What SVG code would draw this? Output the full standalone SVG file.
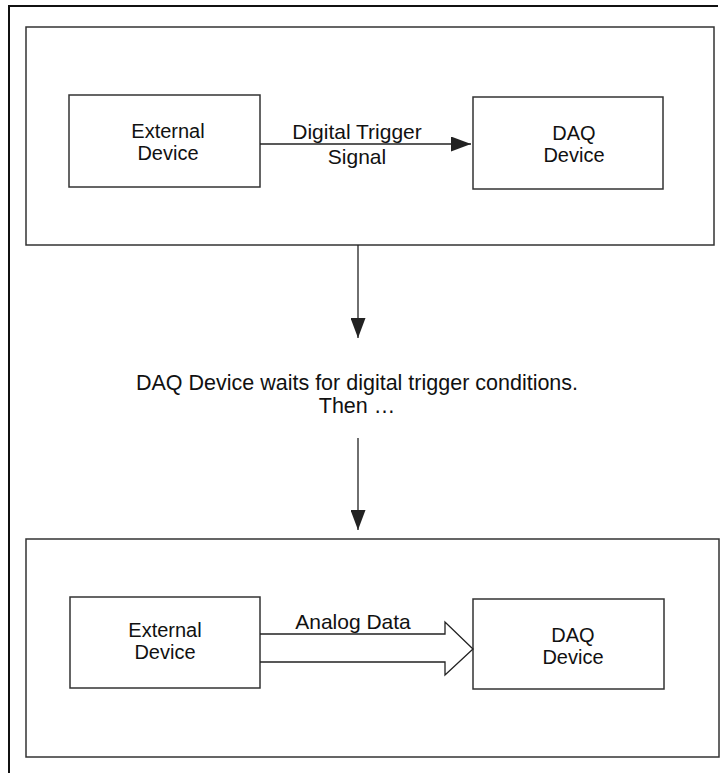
<svg xmlns="http://www.w3.org/2000/svg" width="724" height="773" viewBox="0 0 724 773">
<defs>
<style>
.frame{fill:none;stroke:#111;stroke-width:2}
.panel{fill:none;stroke:#333;stroke-width:1.5}
.box{fill:#fff;stroke:#333;stroke-width:1.5}
.line{fill:none;stroke:#222;stroke-width:1.3}
.t{font-family:"Liberation Sans",Arial,Helvetica,sans-serif;font-size:20px;fill:#111;text-anchor:middle}
.lbl{font-size:21px}
.mid{font-size:21.5px}
</style>
<marker id="ah" viewBox="0 0 20 15" refX="20" refY="7.5" markerWidth="20" markerHeight="15" markerUnits="userSpaceOnUse" orient="auto">
<path d="M0,0 L20,7.5 L0,15 Z" fill="#222"/>
</marker>
</defs>
<rect width="724" height="773" fill="#fff"/>
<path class="frame" d="M9,773 V6 H718"/>
<g id="panel-top">
<rect class="panel" x="26" y="27" width="688" height="218"/>
</g>
<g id="ext-top">
<rect class="box" x="69" y="95" width="191" height="92"/>
<text class="t" x="168" y="138">External</text>
<text class="t" x="168" y="160">Device</text>
</g>
<g id="daq-top">
<rect class="box" x="473" y="97" width="190" height="92"/>
<text class="t" x="574" y="140">DAQ</text>
<text class="t" x="574" y="162">Device</text>
</g>
<g id="mid-text">
<text class="t mid" x="357" y="390">DAQ Device waits for digital trigger conditions.</text>
<text class="t mid" x="357" y="413">Then …</text>
</g>
<g id="panel-bottom">
<rect class="panel" x="26" y="539" width="693" height="218"/>
</g>
<g id="ext-bottom">
<rect class="box" x="70" y="597" width="190" height="91"/>
<text class="t" x="165" y="637">External</text>
<text class="t" x="165" y="659">Device</text>
</g>
<g id="daq-bottom">
<rect class="box" x="473" y="599" width="191" height="90"/>
<text class="t" x="573" y="642">DAQ</text>
<text class="t" x="573" y="664">Device</text>
</g>
<g id="connectors">
<line class="line" x1="260" y1="144" x2="471" y2="144" marker-end="url(#ah)"/>
<text class="t lbl" x="357" y="139">Digital Trigger</text>
<text class="t lbl" x="357" y="164">Signal</text>
<line class="line" x1="358" y1="245" x2="358" y2="338" marker-end="url(#ah)"/>
<line class="line" x1="358" y1="438" x2="358" y2="530" marker-end="url(#ah)"/>
<path class="line" d="M260,634 H445 V622 L473,649 L445,675 V662 H260" fill="#fff"/>
<text class="t lbl" x="353" y="629">Analog Data</text>
</g>
</svg>
